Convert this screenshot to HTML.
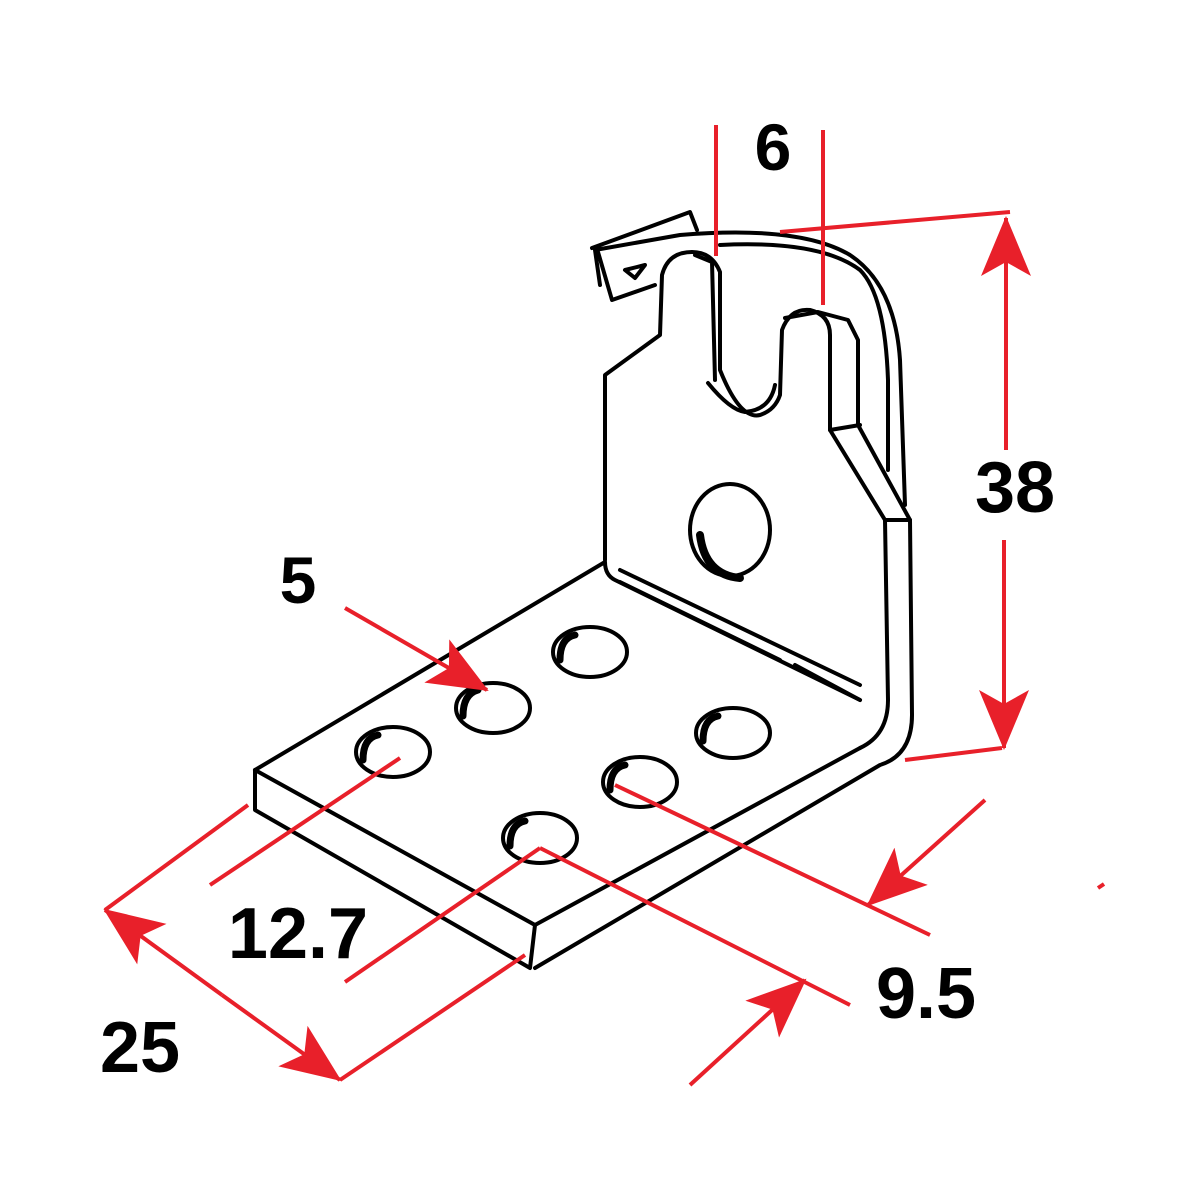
<!DOCTYPE html>
<html><head><meta charset="utf-8"><style>
html,body{margin:0;padding:0;background:#fff;width:1200px;height:1200px;overflow:hidden}
svg{display:block}
text{font-family:"Liberation Sans",Arial,sans-serif;font-weight:bold;fill:#000}
</style></head><body>
<svg width="1200" height="1200" viewBox="0 0 1200 1200" xmlns="http://www.w3.org/2000/svg">
<defs>
<marker id="ah" viewBox="0 0 60 50" refX="58" refY="25" markerWidth="60" markerHeight="50" markerUnits="userSpaceOnUse" orient="auto">
<path d="M0,0 L60,25 L0,50 L14,25 Z" fill="#e8202a"/>
</marker>
</defs>
<g fill="none" stroke="#000" stroke-width="4" stroke-linejoin="round" stroke-linecap="round">
<!-- back curved top -->
<path d="M592,248 L690,212 L697,230 M600,285 L595,250 L680,235 Q800,225 850,255 Q895,285 900,360 L905,505"/>
<path d="M598,252 L612,300 L655,285"/>
<path d="M625,270 L645,265 L635,278 Z"/>
<path d="M720,245 Q820,240 860,270 Q885,295 888,380 L888,470"/>
<!-- vertical plate front outline -->
<path d="M605,560 L605,375 L660,335 L662,275 Q668,252 692,252 Q712,252 720,272 L720,370 Q740,420 760,415 Q775,410 780,395 L782,330 Q790,308 810,310 Q830,315 830,335 L830,430 L885,520 L888,700 Q888,735 860,748"/>
<path d="M695,255 L712,262 L715,380"/>
<path d="M708,383 Q730,410 745,412 Q770,410 775,385"/>
<path d="M785,318 L818,312 L848,320 L858,340 L858,425 L910,520 L912,715 Q912,755 880,765 L535,968"/>
<path d="M830,430 L860,425"/>
<path d="M885,520 L910,520"/>
<!-- base plate -->
<path d="M255,770 L605,562 Q605,575 615,580 L860,700"/>
<path d="M255,770 L255,810 L530,968 L535,925 L255,770"/>
<path d="M535,925 L860,748"/>
<path d="M620,570 L860,685 M620,582 L780,660 M795,665 L860,700"/>
<!-- holes -->
<ellipse cx="730" cy="530" rx="40" ry="46"/>
<path d="M700,535 Q705,575 740,578" stroke-width="8"/>
<ellipse cx="590" cy="652" rx="37" ry="25"/>
<ellipse cx="493" cy="708" rx="37" ry="25"/>
<ellipse cx="393" cy="752" rx="37" ry="25"/>
<ellipse cx="733" cy="733" rx="37" ry="25"/>
<ellipse cx="640" cy="782" rx="37" ry="25"/>
<ellipse cx="540" cy="838" rx="37" ry="25"/>
<g stroke-width="7">
<path d="M560,660 Q560,638 575,635"/>
<path d="M463,716 Q463,694 478,690"/>
<path d="M363,760 Q363,738 378,735"/>
<path d="M703,741 Q703,719 718,716"/>
<path d="M610,790 Q610,768 625,765"/>
<path d="M510,846 Q510,824 525,821"/>
</g>
</g>
<g stroke="#e8202a" stroke-width="4" fill="none">
<line x1="716" y1="125" x2="716" y2="256"/>
<line x1="823" y1="130" x2="823" y2="305"/>
<line x1="780" y1="232" x2="1010" y2="212"/>
<line x1="905" y1="760" x2="1002" y2="748"/>
<line x1="1006" y1="450" x2="1006" y2="218" marker-end="url(#ah)"/>
<line x1="1004" y1="540" x2="1004" y2="748" marker-end="url(#ah)"/>
<line x1="345" y1="608" x2="487" y2="690" marker-end="url(#ah)"/>
<line x1="400" y1="758" x2="210" y2="885"/>
<line x1="540" y1="848" x2="345" y2="982"/>
<line x1="248" y1="805" x2="105" y2="910"/>
<line x1="525" y1="955" x2="340" y2="1080"/>
<line x1="222" y1="995" x2="105" y2="910" marker-end="url(#ah)"/>
<line x1="222" y1="995" x2="340" y2="1080" marker-end="url(#ah)"/>
<line x1="615" y1="785" x2="930" y2="935"/>
<line x1="540" y1="848" x2="850" y2="1005"/>
<line x1="985" y1="800" x2="868" y2="905" marker-end="url(#ah)"/>
<line x1="690" y1="1085" x2="805" y2="980" marker-end="url(#ah)"/>
<line x1="1098" y1="888" x2="1104" y2="884"/>
</g>
<text x="773" y="170" font-size="66" text-anchor="middle">6</text>
<text x="1015" y="512" font-size="72" text-anchor="middle">38</text>
<text x="298" y="603" font-size="66" text-anchor="middle">5</text>
<text x="298" y="958" font-size="72" text-anchor="middle">12.7</text>
<text x="140" y="1072" font-size="72" text-anchor="middle">25</text>
<text x="926" y="1018" font-size="72" text-anchor="middle">9.5</text>
</svg>
</body></html>
